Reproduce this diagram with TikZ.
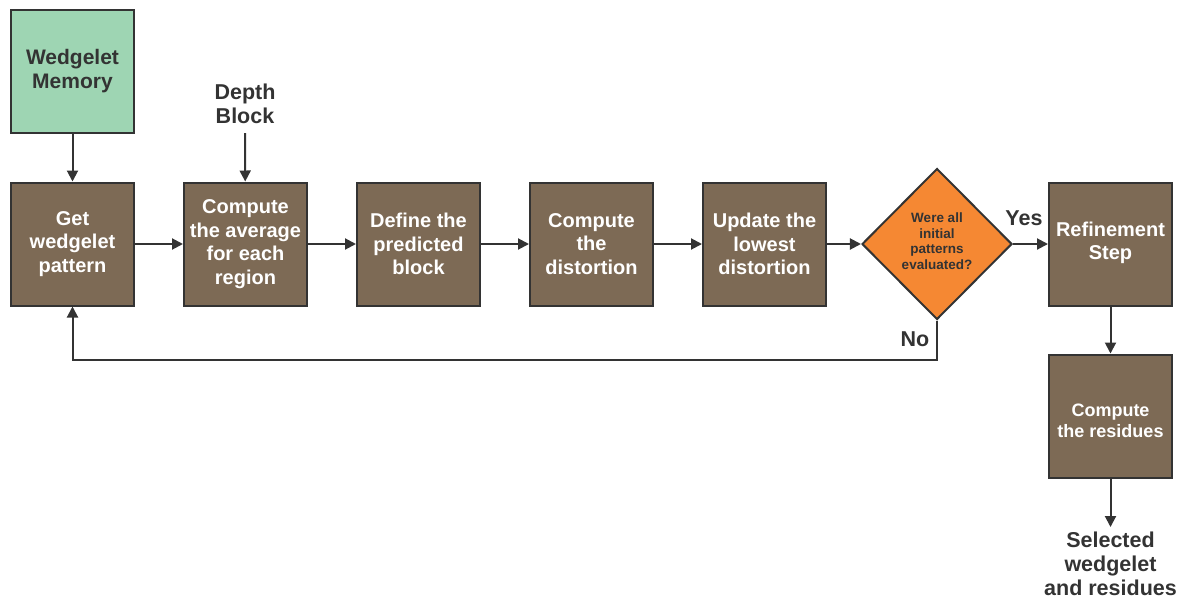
\documentclass[tikz,border=0pt]{standalone}
\usepackage{fontspec}
\setmainfont{Liberation Sans}
\usetikzlibrary{shapes.geometric,arrows.meta}
\definecolor{boxbrown}{HTML}{7D6A55}
\definecolor{boxgreen}{HTML}{9ED5B3}
\definecolor{dorange}{HTML}{F58833}
\definecolor{lineg}{HTML}{333333}
\begin{document}
\begin{tikzpicture}[x=1pt,y=-1pt,
  proc/.style={draw=lineg,line width=2pt,fill=boxbrown,minimum width=123pt,minimum height=123pt,inner sep=0pt,
    text=white,font=\bfseries\fontsize{20}{23.5}\selectfont,align=center},
  mem/.style={proc,fill=boxgreen,text=lineg,font=\bfseries\fontsize{21}{24}\selectfont},
  dec/.style={diamond,draw=lineg,line width=2pt,fill=dorange,minimum width=150pt,minimum height=151pt,inner sep=0pt},
  dectext/.style={text=lineg,font=\bfseries\fontsize{13.5}{15.6}\selectfont,align=center,inner sep=0pt},
  intext/.style={text=white,align=center,inner sep=0pt},
  lbl/.style={text=lineg,font=\bfseries\fontsize{21.5}{24}\selectfont,align=center,inner sep=0pt},
  arr/.style={draw=lineg,line width=2pt,-{Triangle[length=11pt,width=11pt]}}]
\useasboundingbox (0,0) rectangle (1187,598);
\node[mem] (mem) at (72.5,71) {Wedgelet\\Memory};
\node[proc] (get) at (72.5,244) {Get\\wedgelet\\pattern};
\node[proc] (avg) at (245.5,244) {Compute\\the average\\for each\\region};
\node[proc] (def) at (418.5,244) {Define the\\predicted\\block};
\node[proc] (dist) at (591.5,244) {Compute\\the\\distortion};
\node[proc] (upd) at (764.5,244) {Update the\\lowest\\distortion};
\node[dec] (dec) at (937,244) {};
\node[dectext] (dect) at (937,241) {Were all\\initial\\patterns\\evaluated?};
\node[proc] (ref) at (1110.5,244) {};
\node[intext,font=\bfseries\fontsize{20}{23.5}\selectfont] (reft) at (1110.5,243) {Refinement\\Step};
\node[proc] (res) at (1110.5,416) {};
\node[intext,font=\bfseries\fontsize{18}{21}\selectfont] (rest) at (1110.5,421) {Compute\\the residues};
\node[lbl] (depth) at (245,104) {Depth\\Block};
\node[lbl] (sel) at (1110.5,564) {Selected\\wedgelet\\and residues};
\node[lbl] (yes) at (1024,218) {Yes};
\node[lbl] (no) at (915,339) {No};
\coordinate (dtop) at (245,133);
\coordinate (selt) at (1110.5,527);
\draw[arr] (mem) -- (get);
\draw[arr] (dtop) -- (avg);
\draw[arr] (get) -- (avg);
\draw[arr] (avg) -- (def);
\draw[arr] (def) -- (dist);
\draw[arr] (dist) -- (upd);
\draw[arr] (upd) -- (dec);
\draw[arr] (dec) -- (ref.west|-dec);
\draw[arr] (ref) -- (res);
\draw[arr] (res) -- (selt);
\draw[arr] (dec.south) |- (72.5,360) -- (get.south);
\end{tikzpicture}
\end{document}
